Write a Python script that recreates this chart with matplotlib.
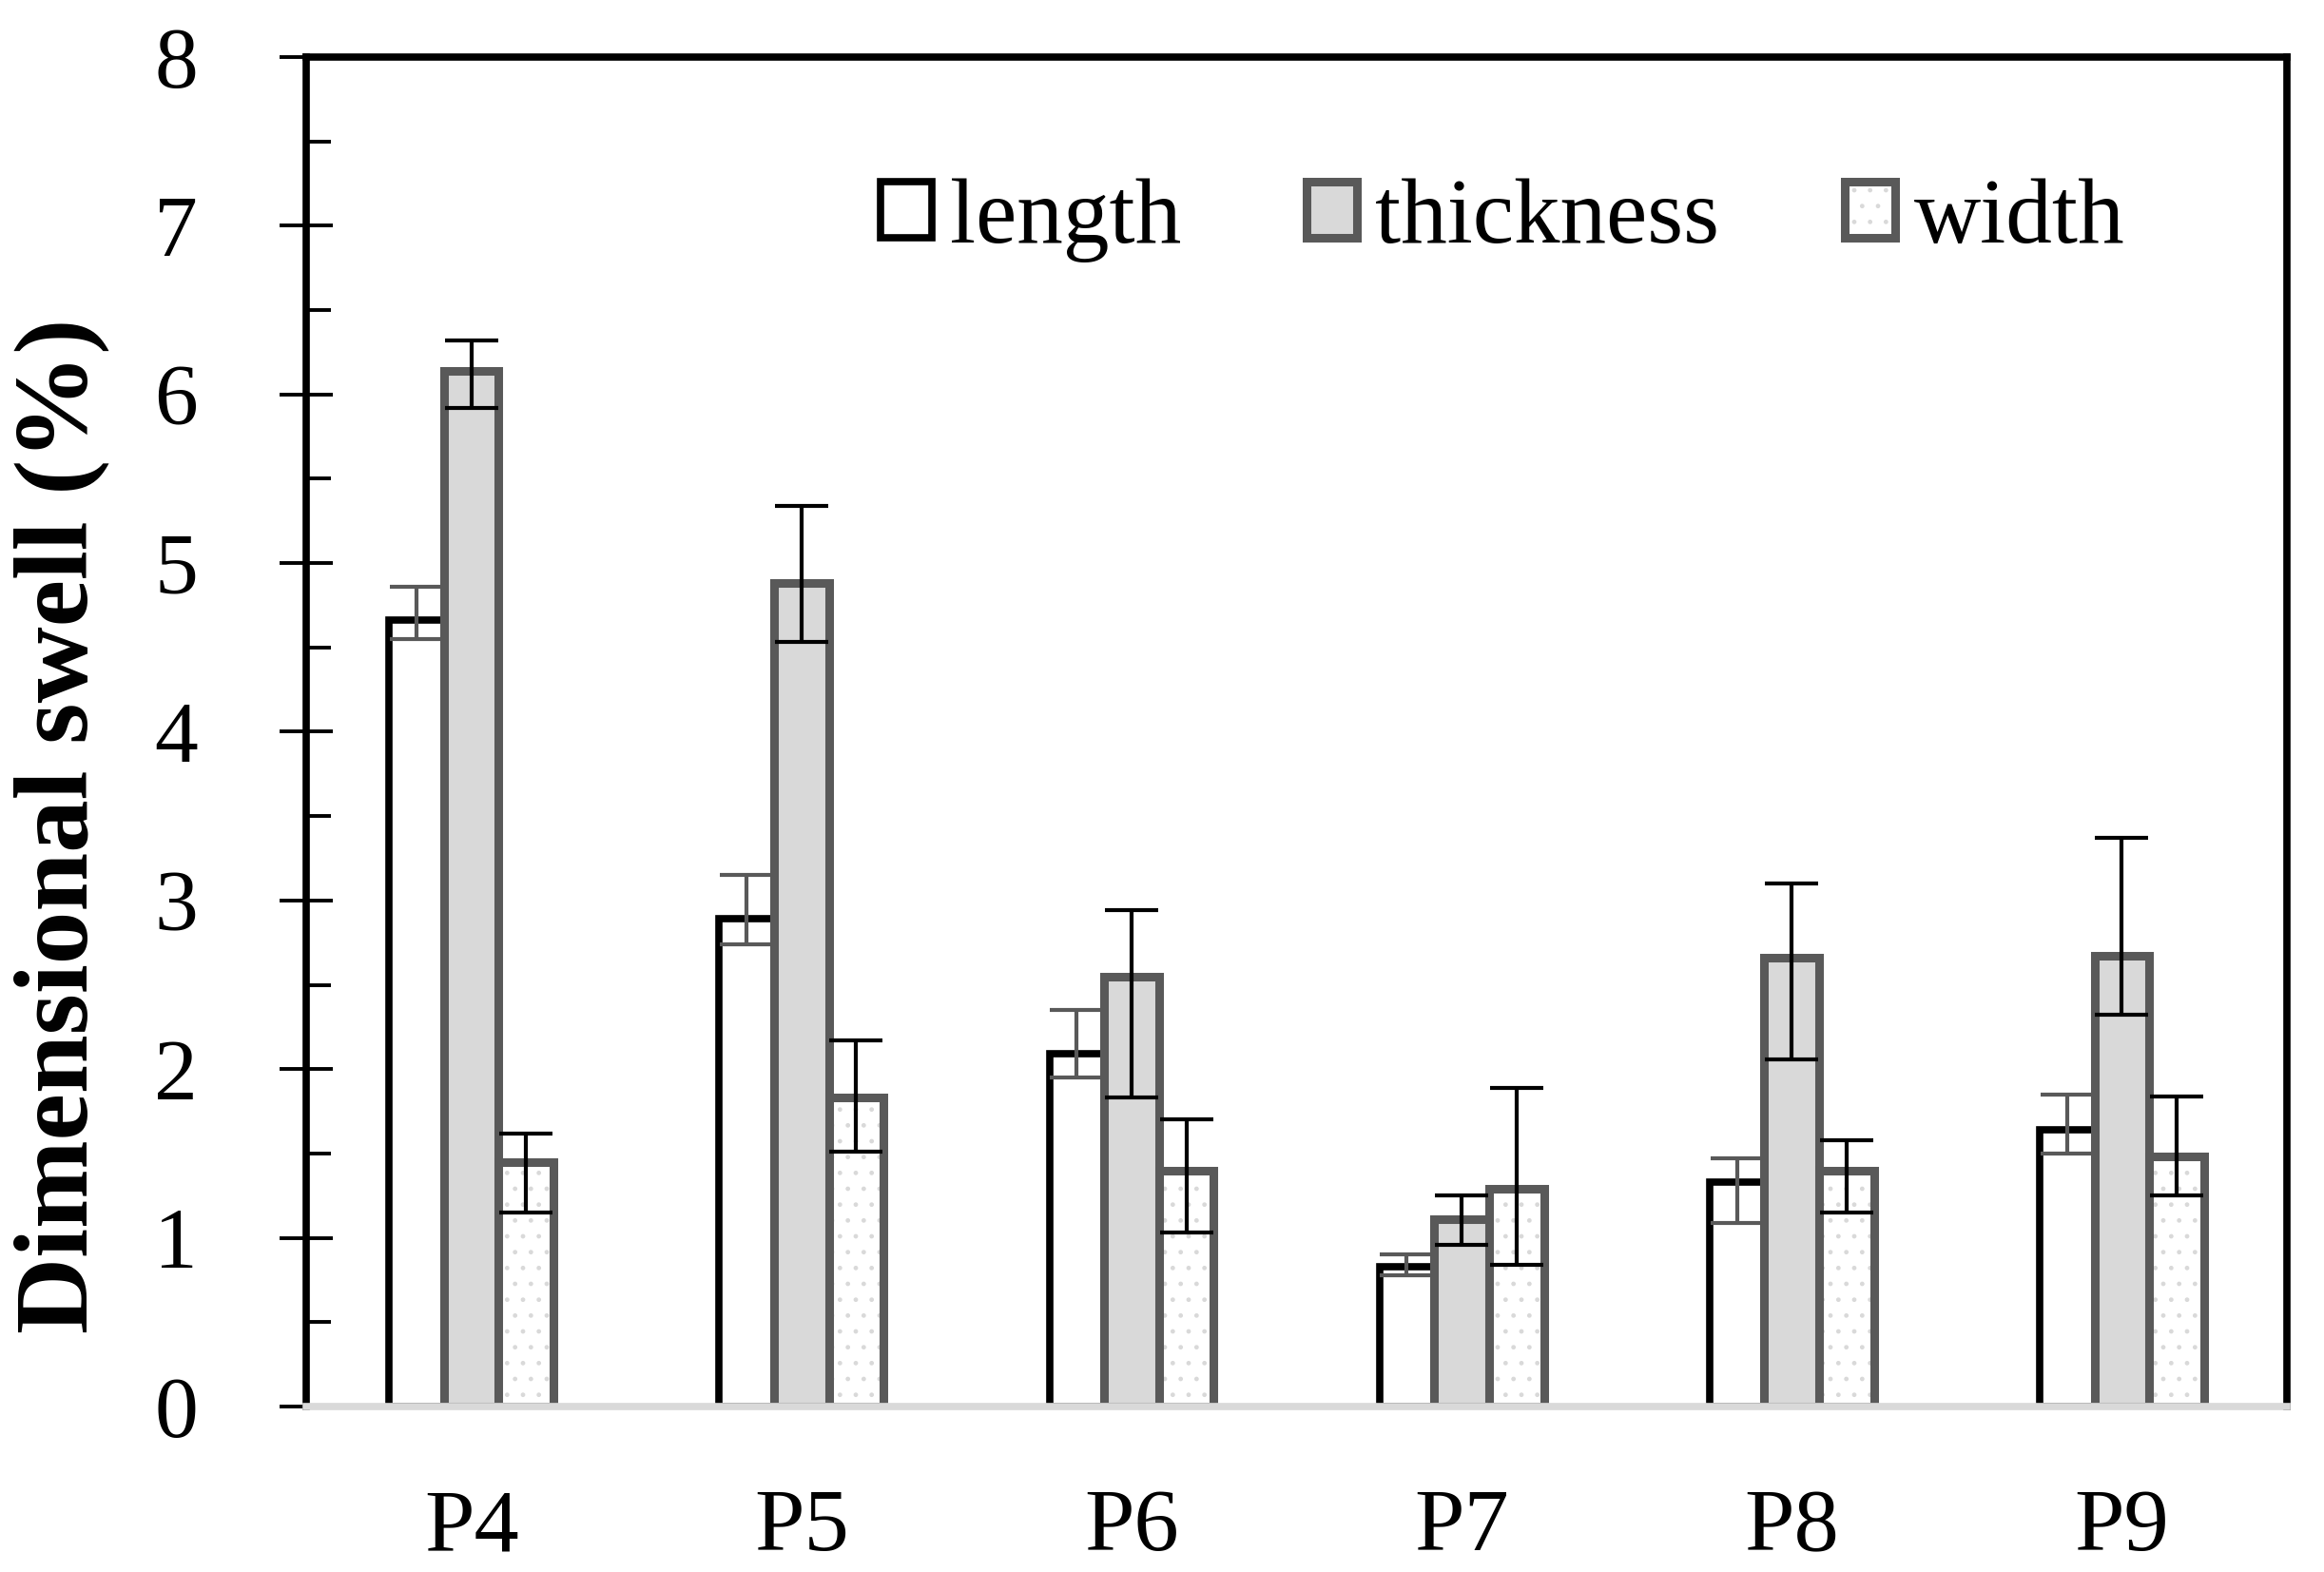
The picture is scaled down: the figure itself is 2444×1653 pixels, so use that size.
import numpy as np
import matplotlib
matplotlib.use('Agg')
import matplotlib.pyplot as plt
from matplotlib.patches import Patch
from matplotlib.legend_handler import HandlerTuple
from matplotlib.ticker import MultipleLocator

plt.rcParams['font.family'] = ['Liberation Serif', 'DejaVu Serif']

samples = ['P4', 'P5', 'P6', 'P7', 'P8', 'P9']
length = [4.66, 2.89, 2.09, 0.83, 1.33, 1.64]
length_up = [0.20, 0.26, 0.26, 0.07, 0.14, 0.21]
length_lo = [0.11, 0.15, 0.14, 0.05, 0.24, 0.14]
thickness = [6.14, 4.88, 2.55, 1.11, 2.66, 2.67]
thickness_up = [0.18, 0.46, 0.39, 0.14, 0.44, 0.70]
thickness_lo = [0.22, 0.35, 0.72, 0.15, 0.60, 0.35]
width = [1.45, 1.83, 1.40, 1.29, 1.40, 1.48]
width_up = [0.17, 0.34, 0.30, 0.60, 0.18, 0.36]
width_lo = [0.30, 0.32, 0.37, 0.45, 0.25, 0.23]

DARK = '#595959'
LIGHT = '#d9d9d9'

fig = plt.figure(figsize=(24.44, 16.53), dpi=100)
ax = fig.add_axes([0.1318, 0.1053, 0.8522, 0.8584])

x = np.arange(len(samples))
w = 0.166
err_style = dict(elinewidth=3, capsize=20.5, capthick=3)

# length: white with black edge, grey error bars
ax.bar(x - w, length, w, color='white', edgecolor='black', linewidth=5.5, zorder=1,
       yerr=[length_lo, length_up], error_kw=dict(ecolor=DARK, **err_style))

# thickness: light grey fill
ax.bar(x, thickness, w, color=LIGHT, edgecolor=DARK, linewidth=6.5, zorder=1,
       yerr=[thickness_lo, thickness_up], error_kw=dict(ecolor='black', **err_style))

# width: dotted fill, drawn as hatch layer + outline
ax.bar(x + w, width, w, color='white', edgecolor=LIGHT, hatch='.', linewidth=0, zorder=1)
ax.bar(x + w, width, w, fill=False, edgecolor=DARK, linewidth=6.5, zorder=1,
       yerr=[width_lo, width_up], error_kw=dict(ecolor='black', **err_style))

ax.set_xlim(-0.5, len(samples) - 0.5)
ax.set_ylim(0, 8)
ax.set_xticks(x)
ax.set_xticklabels(samples)
ax.yaxis.set_major_locator(MultipleLocator(1))
ax.yaxis.set_minor_locator(MultipleLocator(0.5))

for side in ['left', 'top', 'right']:
    ax.spines[side].set_linewidth(5.5)
    ax.spines[side].set_color('black')
ax.spines['bottom'].set_linewidth(5.5)
ax.spines['bottom'].set_color(LIGHT)

ax.tick_params(axis='y', which='major', direction='inout', length=40, width=2.8,
               labelsize=66, pad=62)
ax.tick_params(axis='y', which='minor', direction='in', length=19, width=2.8)
ax.tick_params(axis='x', length=0, pad=62, labelsize=68)

fig.text(0.0266, 0.4749, 'Dimensional swell (%)', rotation=90, fontsize=80,
         fontweight='bold', ha='center', va='center')

handles = [
    Patch(facecolor='white', edgecolor='black', linewidth=5.5),
    Patch(facecolor=LIGHT, edgecolor=DARK, linewidth=6.5),
    (Patch(facecolor='white', edgecolor=LIGHT, hatch='.', linewidth=0),
     Patch(fill=False, edgecolor=DARK, linewidth=6.5)),
]
ax.legend(handles, ['length', 'thickness', 'width'], ncol=3, frameon=False,
          loc='center left', bbox_to_anchor=(0.29, 0.879), borderaxespad=0,
          borderpad=0, fontsize=70, handlelength=0.55, handleheight=0.55,
          handletextpad=0.2, columnspacing=1.35,
          handler_map={tuple: HandlerTuple(ndivide=1, pad=0)})

fig.savefig('out.png', dpi=100)
